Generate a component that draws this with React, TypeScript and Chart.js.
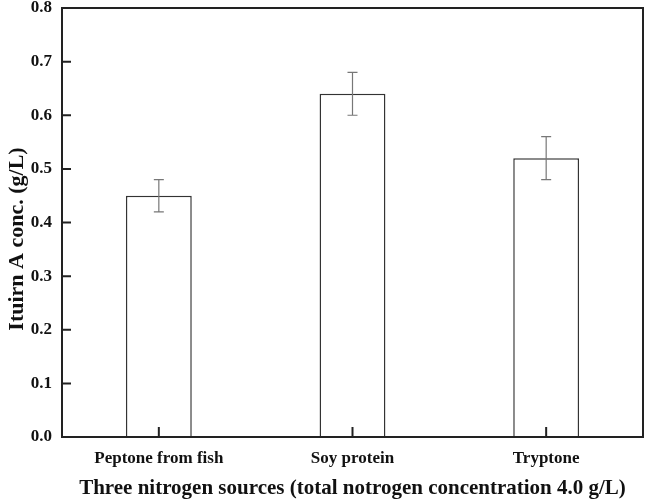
import React, { useEffect, useRef } from "react";
import { Chart, registerables } from "chart.js";

Chart.register(...registerables);

const categories = ["Peptone from fish", "Soy protein", "Tryptone"];
const values = [0.45, 0.64, 0.52];
const errors = [0.03, 0.04, 0.04];
const yTicks = [0, 0.1, 0.2, 0.3, 0.4, 0.5, 0.6, 0.7, 0.8];

const FONT = "'Liberation Serif', 'Times New Roman', serif";

const framePlugin = {
  id: "framePlugin",
  afterDatasetsDraw(chart: any) {
    const { ctx, chartArea, scales } = chart;
    const x = scales.x;
    const y = scales.y;
    ctx.save();
    // error bars
    ctx.strokeStyle = "#777";
    ctx.lineWidth = 1.2;
    values.forEach((v, i) => {
      const cx = x.getPixelForValue(i);
      const yt = y.getPixelForValue(v + errors[i]);
      const yb = y.getPixelForValue(v - errors[i]);
      ctx.beginPath();
      ctx.moveTo(cx, yt);
      ctx.lineTo(cx, yb);
      ctx.moveTo(cx - 5, yt);
      ctx.lineTo(cx + 5, yt);
      ctx.moveTo(cx - 5, yb);
      ctx.lineTo(cx + 5, yb);
      ctx.stroke();
    });
    // frame
    ctx.strokeStyle = "#222";
    ctx.lineWidth = 2;
    ctx.strokeRect(chartArea.left, chartArea.top, chartArea.right - chartArea.left, chartArea.bottom - chartArea.top);
    // inward ticks
    ctx.beginPath();
    yTicks.forEach((t) => {
      const py = y.getPixelForValue(t);
      ctx.moveTo(chartArea.left, py);
      ctx.lineTo(chartArea.left + 9, py);
    });
    categories.forEach((_, i) => {
      const px = x.getPixelForValue(i);
      ctx.moveTo(px, chartArea.bottom);
      ctx.lineTo(px, chartArea.bottom - 10);
    });
    ctx.stroke();
    ctx.restore();
  },
};

export default function App() {
  const ref = useRef<HTMLCanvasElement>(null);
  useEffect(() => {
    document.body.style.margin = "0";
    const chart = new Chart(ref.current!, {
      type: "bar",
      data: {
        labels: categories,
        datasets: [
          {
            data: values,
            backgroundColor: "#ffffff",
            borderColor: "#333",
            borderWidth: 1.5,
            barPercentage: 0.34,
            categoryPercentage: 1,
          },
        ],
      },
      options: {
        animation: false,
        responsive: false,
        layout: { padding: { top: 8, right: 2, left: 0, bottom: 0 } },
        plugins: { legend: { display: false }, tooltip: { enabled: false } },
        scales: {
          x: {
            grid: { display: false, drawTicks: false },
            border: { display: false },
            ticks: {
              color: "#111",
              padding: 11,
              font: { family: FONT, size: 17, weight: "bold" },
              maxRotation: 0,
            },
            title: {
              display: true,
              text: "Three nitrogen sources (total notrogen concentration 4.0 g/L)",
              color: "#111",
              font: { family: FONT, size: 21, weight: "bold" },
              padding: { top: 0, bottom: 1 },
            },
            afterFit(scale: any) {
              scale.height = 65;
              scale.paddingLeft = 0;
              scale.paddingRight = 0;
            },
          },
          y: {
            min: 0,
            max: 0.8,
            grid: { display: false, drawTicks: false },
            border: { display: false },
            ticks: {
              stepSize: 0.1,
              color: "#111",
              padding: 10,
              font: { family: FONT, size: 17, weight: "bold" },
              callback: (v: any) => Number(v).toFixed(1),
            },
            title: {
              display: true,
              text: "Ituirn A conc. (g/L)      ",
              color: "#111",
              font: { family: FONT, size: 22, weight: "bold" },
              padding: { top: 4, bottom: 0 },
            },
            afterFit(scale: any) {
              scale.width = 62;
              scale.paddingTop = 0;
              scale.paddingBottom = 0;
            },
          },
        },
      },
      plugins: [framePlugin],
    });
    return () => chart.destroy();
  }, []);
  return <canvas ref={ref} width={645} height={502} style={{ display: "block" }} />;
}
